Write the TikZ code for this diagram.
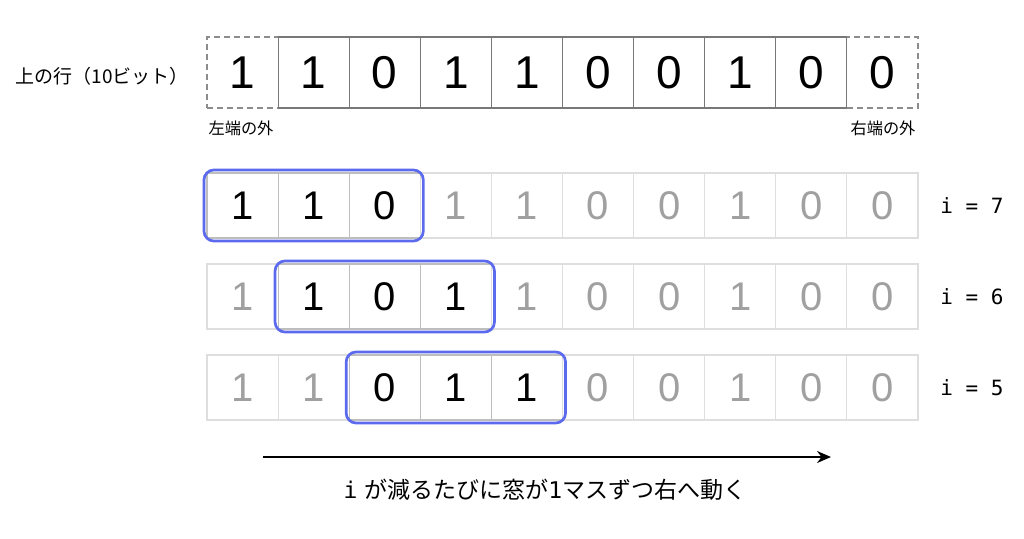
\documentclass[tikz,border=0pt]{standalone}
\usepackage{fontspec}
\setmainfont{Liberation Sans}
\newfontfamily\cjk{Noto Sans CJK JP}
\newfontfamily\mono{DejaVu Sans Mono}
\usetikzlibrary{arrows.meta,fit}
\definecolor{winblue}{RGB}{92,106,238}
\definecolor{topline}{RGB}{120,120,120}
\definecolor{dashline}{RGB}{140,140,140}
\definecolor{paleline}{RGB}{222,222,222}
\definecolor{midline}{RGB}{190,190,190}
\definecolor{paledigit}{RGB}{160,160,160}
\tikzset{
  topcell/.style={draw=topline, line width=1.1pt, minimum width=71.1pt, minimum height=71pt, inner sep=0pt, font=\fontsize{46}{50}\selectfont},
  edgecell/.style={topcell, draw=dashline, dash pattern=on 6pt off 4pt},
  rowcell/.style={draw=paleline, line width=1.1pt, minimum width=71.1pt, minimum height=65pt, inner sep=0pt, text=paledigit, font=\fontsize{40}{44}\selectfont},
  wincell/.style={rowcell, draw=midline, text=black},
  win/.style={draw=winblue, line width=2.7pt, rounded corners=10pt, inner sep=2.5pt},
  jlabel/.style={font=\cjk\fontsize{19}{23}\selectfont, inner sep=0pt},
  smalljl/.style={font=\cjk\fontsize{16.2}{19}\selectfont, inner sep=0pt},
  ilabel/.style={font=\mono\fontsize{21}{25}\selectfont, inner sep=0pt},
  arr/.style={line width=1.8pt, -{Stealth[length=14pt,width=12pt]}}
}
\begin{document}
\begin{tikzpicture}[x=1pt,y=-1pt]
\useasboundingbox[fill=white] (0,0) rectangle (1024,538);
% top row
\node[jlabel] (toplab) at (102,76) {上の行（10ビット）};
\node[edgecell] (t0) at ({207+71.1*0.5},72.5) {1};
\node[edgecell] (t9) at ({207+71.1*9.5},72.5) {0};
\foreach \b [count=\k from 1] in {1,0,1,1,0,0,1,0} {
  \node[topcell] (t\k) at ({207+71.1*(\k+0.5)},72.5) {\b};
}
\node[smalljl] (lout) at (241,128) {左端の外};
\node[smalljl] (rout) at (883,128) {右端の外};
% sliding rows
\foreach \r/\lab in {0/7,1/6,2/5} {
  \pgfmathsetmacro\yc{173+91*\r+32.5}
  \pgfmathtruncatemacro\e{\r+2}
  \foreach \b [count=\k from 0] in {1,1,0,1,1,0,0,1,0,0} {
    \pgfmathtruncatemacro\inwin{and(\k>=\r,\k<=\e)}
    \ifnum\inwin=1
      \node[wincell] (r\r-\k) at ({207+71.1*(\k+0.5)},\yc) {\b};
    \else
      \node[rowcell] (r\r-\k) at ({207+71.1*(\k+0.5)},\yc) {\b};
    \fi
  }
  \node[win, fit=(r\r-\r)(r\r-\e)] (w\r) {};
  \node[ilabel] (i\r) at (972,\yc) {i = \lab};
}
% arrow
\coordinate (as) at (263,457);
\coordinate (ae) at (831,457);
\draw[arr] (as) -- (ae);
\node[font=\cjk\fontsize{23}{27}\selectfont, inner sep=0pt] (cap) at (545,490) {{\mono i}\hspace{0.3em}が減るたびに窓が{\mono 1}マスずつ右へ動く};
\end{tikzpicture}
\end{document}
